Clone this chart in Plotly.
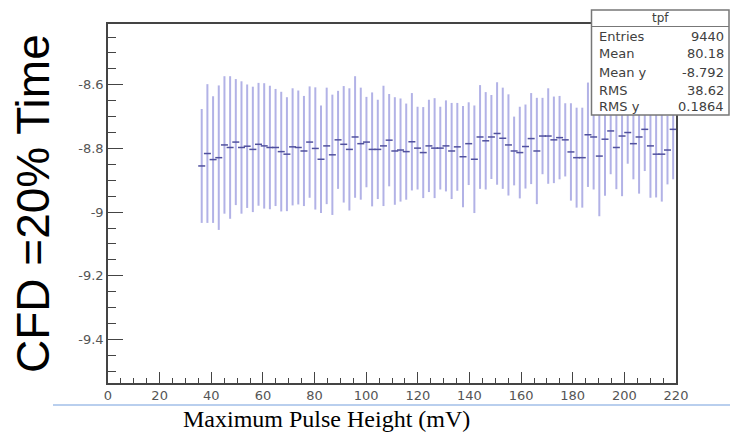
import plotly.graph_objects as go

# ---- data ----
pulse_height = [
    36.3, 38.5, 40.7, 42.9, 45.1, 47.3, 49.5, 51.7, 53.9, 56.1,
    58.3, 60.5, 62.7, 64.9, 67.1, 69.3, 71.5, 73.7, 75.9, 78.1,
    80.3, 82.5, 84.7, 86.9, 89.1, 91.3, 93.5, 95.7, 97.9, 100.1,
    102.3, 104.5, 106.7, 108.9, 111.1, 113.3, 115.5, 117.7, 119.9, 122.1,
    124.3, 126.5, 128.7, 130.9, 133.1, 135.3, 137.5, 139.7, 141.9, 144.1,
    146.3, 148.5, 150.7, 152.9, 155.1, 157.3, 159.5, 161.7, 163.9, 166.1,
    168.3, 170.5, 172.7, 174.9, 177.1, 179.3, 181.5, 183.7, 185.9, 188.1,
    190.3, 192.5, 194.7, 196.9, 199.1, 201.3, 203.5, 205.7, 207.9, 210.1,
    212.3, 214.5, 216.7, 218.9,
]
cfd_time_mean = [
    -8.855, -8.816, -8.835, -8.829, -8.789, -8.797, -8.780, -8.797, -8.793, -8.803,
    -8.787, -8.792, -8.797, -8.797, -8.810, -8.818, -8.795, -8.797, -8.808, -8.780,
    -8.800, -8.834, -8.792, -8.820, -8.773, -8.787, -8.803, -8.764, -8.785, -8.780,
    -8.803, -8.803, -8.792, -8.774, -8.808, -8.805, -8.810, -8.779, -8.799, -8.813,
    -8.792, -8.799, -8.799, -8.792, -8.808, -8.795, -8.826, -8.785, -8.834, -8.764,
    -8.776, -8.764, -8.753, -8.768, -8.789, -8.808, -8.813, -8.794, -8.769, -8.808,
    -8.761, -8.761, -8.773, -8.766, -8.773, -8.811, -8.829, -8.829, -8.757, -8.764,
    -8.824, -8.771, -8.745, -8.797, -8.761, -8.750, -8.785, -8.764, -8.740, -8.792,
    -8.818, -8.818, -8.805, -8.740,
]
cfd_time_spread = [
    0.179, 0.218, 0.199, 0.227, 0.216, 0.224, 0.198, 0.208, 0.194, 0.197,
    0.193, 0.197, 0.194, 0.184, 0.188, 0.179, 0.184, 0.179, 0.173, 0.175,
    0.192, 0.169, 0.183, 0.189, 0.154, 0.183, 0.192, 0.191, 0.176, 0.142,
    0.179, 0.156, 0.189, 0.145, 0.169, 0.162, 0.151, 0.153, 0.130, 0.143,
    0.145, 0.157, 0.130, 0.143, 0.151, 0.138, 0.159, 0.130, 0.169, 0.163,
    0.153, 0.132, 0.161, 0.159, 0.159, 0.108, 0.144, 0.132, 0.143, 0.167,
    0.120, 0.150, 0.136, 0.131, 0.115, 0.153, 0.157, 0.157, 0.164, 0.165,
    0.189, 0.178, 0.136, 0.131, 0.189, 0.098, 0.112, 0.178, 0.131, 0.163,
    0.136, 0.149, 0.108, 0.157,
]
x_tick_vals = [0, 20, 40, 60, 80, 100, 120, 140, 160, 180, 200, 220]
x_tick_text = ["0", "20", "40", "60", "80", "100", "120", "140", "160", "180", "200", "220"]
y_tick_vals = [-8.6, -8.8, -9.0, -9.2, -9.4]
y_tick_text = ["-8.6", "-8.8", "-9", "-9.2", "-9.4"]
stats_title = "tpf"
stats_labels = ["Entries", "Mean", "Mean y", "RMS", "RMS y"]
stats_values = ["9440", "80.18", "-8.792", "38.62", "0.1864"]

# ---- geometry helpers (pixels -> paper) ----
W, H = 730, 436
L, R, T, B = 108, 54, 24, 53
PW, PH = W - L - R, H - T - B


def px(x):
    return (x - L) / PW


def py(y):
    return (H - B - y) / PH


fig = go.Figure()
fig.add_trace(go.Scatter(
    x=pulse_height, y=cfd_time_mean, mode="markers",
    marker=dict(symbol="line-ew", size=5, color="#4c4c9c",
                line=dict(width=1.5, color="#50509e")),
    error_y=dict(type="data", array=cfd_time_spread, visible=True,
                 color="rgba(115,115,210,0.55)", thickness=2, width=0),
    showlegend=False, hoverinfo="skip",
))

axis_col = "#444444"
tickfont = dict(family="DejaVu Sans", size=13, color="#555555")
fig.update_xaxes(
    range=[0, 220], showgrid=False, zeroline=False,
    showline=True, linecolor=axis_col, linewidth=1.5, mirror=True,
    tickmode="array", tickvals=x_tick_vals, ticktext=x_tick_text,
    ticks="inside", ticklen=11, tickwidth=1.2, tickcolor=axis_col,
    minor=dict(dtick=5, tick0=0, ticks="inside", ticklen=5, tickwidth=1.1,
               tickcolor=axis_col, showgrid=False),
    tickfont=tickfont,
)
fig.update_yaxes(
    range=[-9.537, -8.409], showgrid=False, zeroline=False,
    showline=True, linecolor=axis_col, linewidth=1.5, mirror=True,
    tickmode="array", tickvals=y_tick_vals, ticktext=y_tick_text,
    ticks="inside", ticklen=15, tickwidth=1.2, tickcolor=axis_col,
    minor=dict(dtick=0.05, tick0=-9.4, ticks="inside", ticklen=8, tickwidth=1.1,
               tickcolor=axis_col, showgrid=False),
    tickfont=tickfont,
)

shapes = [
    # light blue separator line under axis
    dict(type="line", xref="paper", yref="paper", x0=px(53), x1=px(730),
         y0=py(405), y1=py(405), line=dict(color="#b9cfee", width=2)),
    # stats box
    dict(type="rect", xref="paper", yref="paper", x0=px(591.5), x1=px(729),
         y0=py(115), y1=py(10), fillcolor="white",
         line=dict(color="#777777", width=1.5), layer="above"),
    dict(type="line", xref="paper", yref="paper", x0=px(591.5), x1=px(729),
         y0=py(26.5), y1=py(26.5), line=dict(color="#777777", width=1.2), layer="above"),
]

annotations = [
    dict(text="CFD =20% Time", xref="paper", yref="paper", x=px(33), y=py(204),
         textangle=-90, showarrow=False, xanchor="center", yanchor="middle",
         font=dict(family="Liberation Sans, Arial", size=46, color="black")),
    dict(text="Maximum Pulse Height (mV)", xref="paper", yref="paper",
         x=px(326), y=py(419), showarrow=False, xanchor="center", yanchor="middle",
         font=dict(family="Liberation Serif, Times New Roman", size=24, color="black")),
    dict(text=stats_title, xref="paper", yref="paper", x=px(660), y=py(18),
         showarrow=False, xanchor="center", yanchor="middle",
         font=dict(family="DejaVu Sans", size=12, color="#404040")),
]
row_y = [36, 54, 72, 90, 107]
for lab, val, ry in zip(stats_labels, stats_values, row_y):
    annotations.append(dict(text=lab, xref="paper", yref="paper", x=px(597), y=py(ry),
                            showarrow=False, xanchor="left", yanchor="middle",
                            font=dict(family="DejaVu Sans", size=13, color="#404040")))
    annotations.append(dict(text=val, xref="paper", yref="paper", x=px(726), y=py(ry),
                            showarrow=False, xanchor="right", yanchor="middle",
                            font=dict(family="DejaVu Sans", size=13, color="#404040")))

fig.update_layout(
    width=W, height=H, margin=dict(l=L, r=R, t=T, b=B, pad=0),
    paper_bgcolor="white", plot_bgcolor="white",
    shapes=shapes, annotations=annotations, showlegend=False,
)

fig.write_html("out.html")
